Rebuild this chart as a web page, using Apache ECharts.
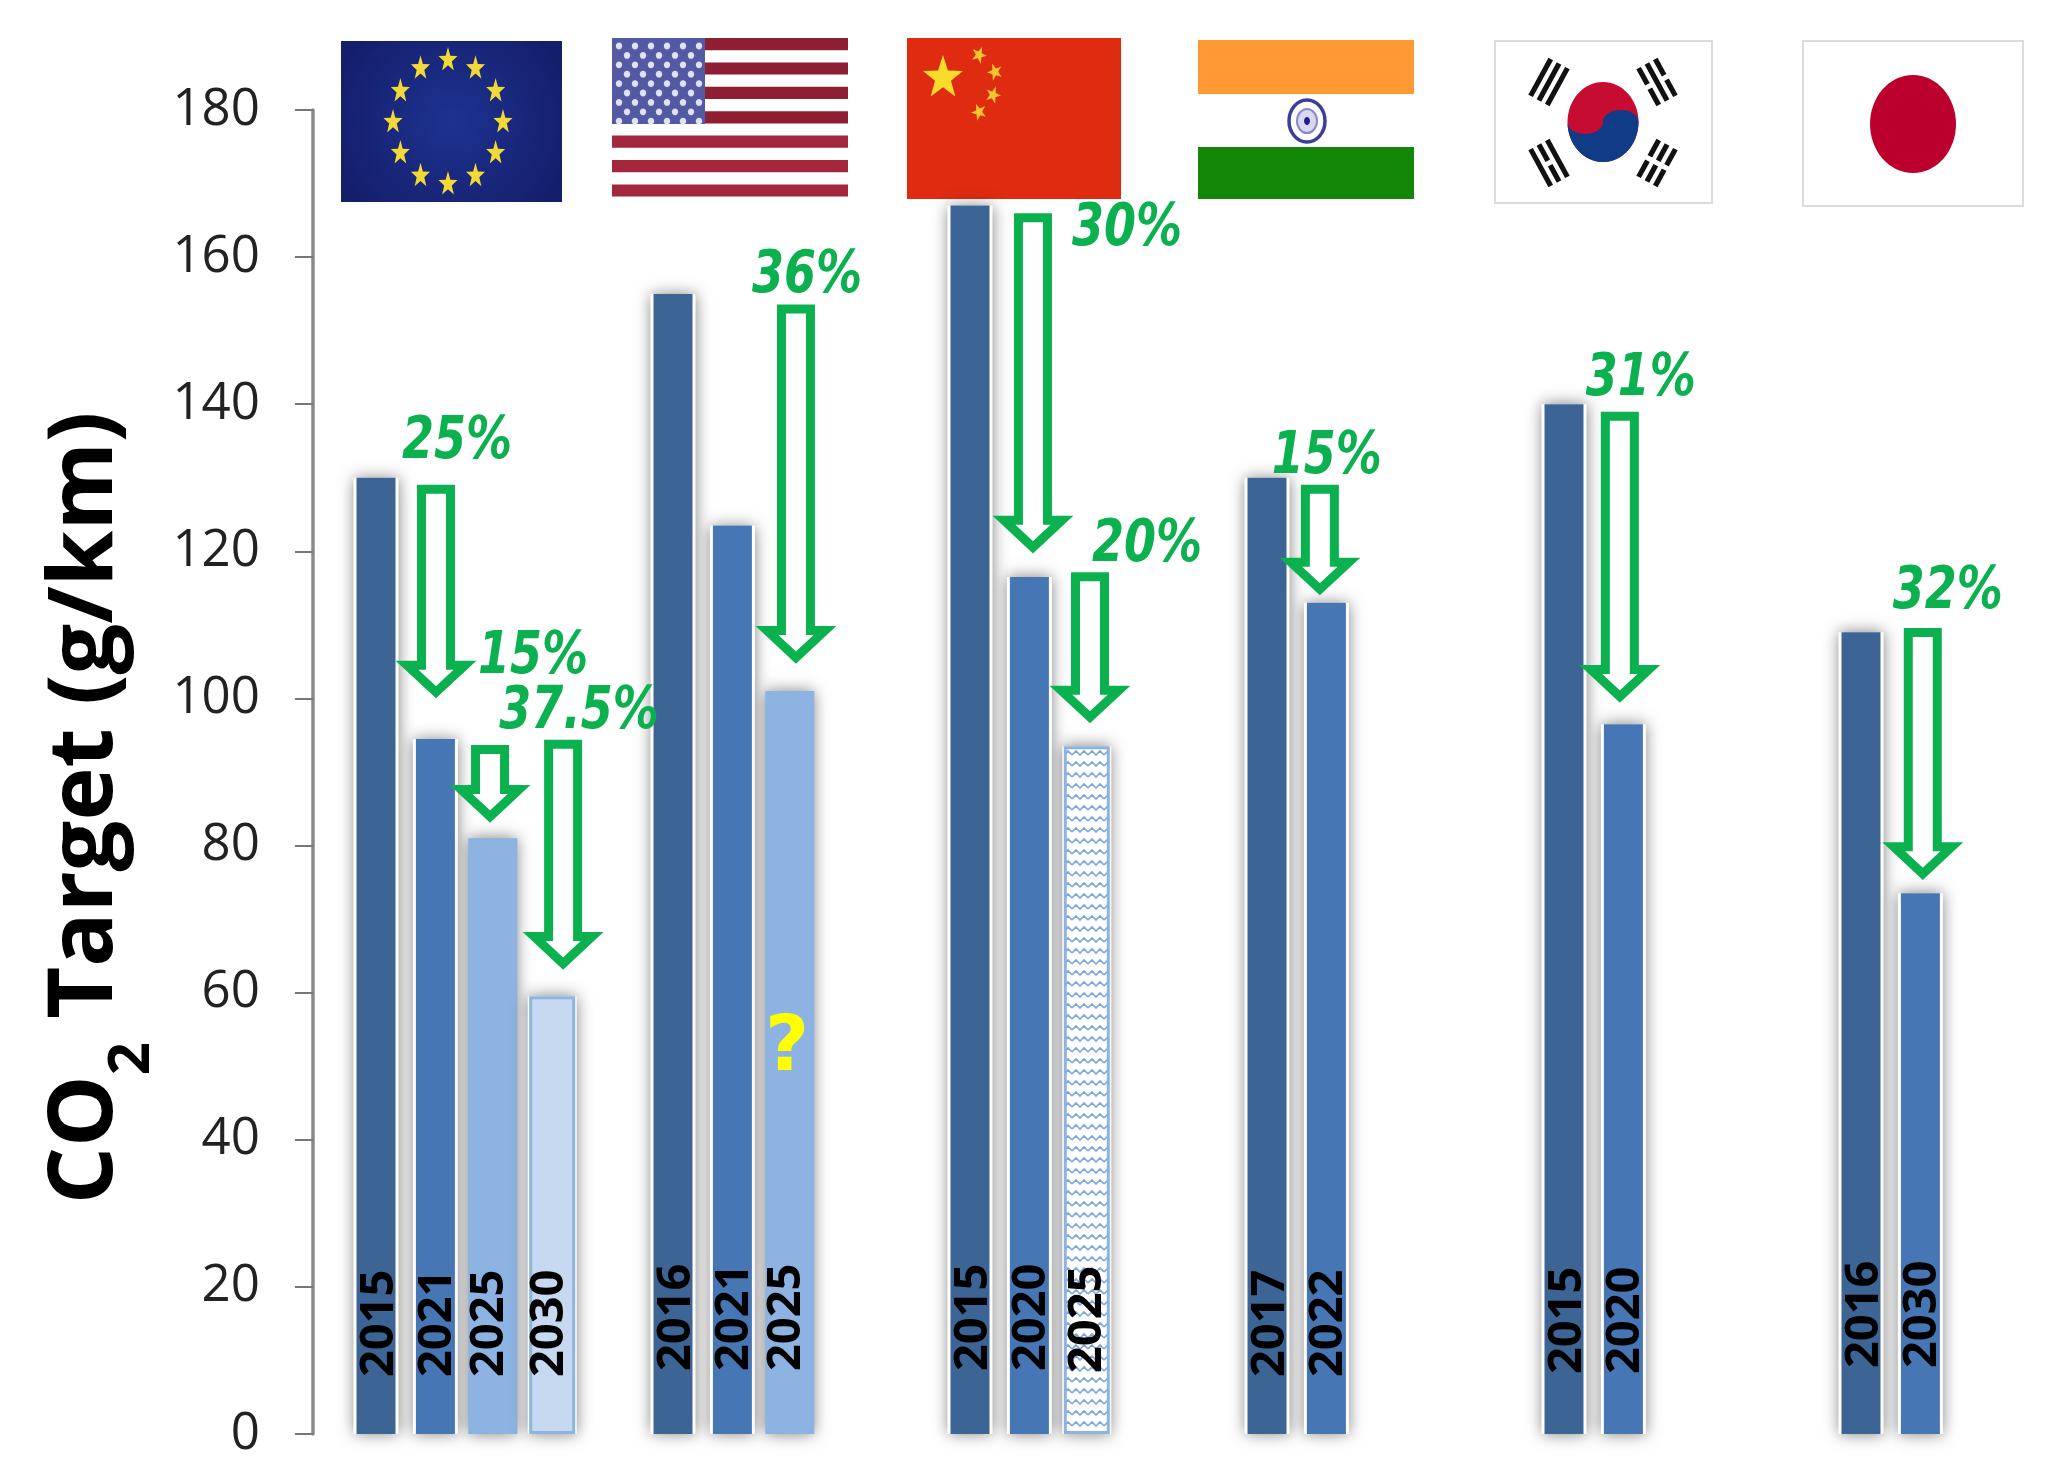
<!DOCTYPE html>
<html><head><meta charset="utf-8">
<style>html,body{margin:0;padding:0;background:#fff}#c{width:2064px;height:1476px}</style>
<script src="https://cdn.jsdelivr.net/npm/echarts@6/dist/echarts.min.js"></script>
</head><body><div id="c"></div>
<script>
// ---------- data ----------
const categories = ['','2015','2021','2025','2030','','2016','2021','2025','','','2015','2020','2025','','','2017','2022','','','','2015','2020','','','','2016','2030',''];
const barValues  = [null,130,94.5,81,59.5,null,155,123.5,101,null,null,167,116.5,93.5,null,null,130,113,null,null,null,140,96.5,null,null,null,109,73.5,null];
const barTones   = ['','dark','mid','light','pale','','dark','mid','light','','','dark','mid','hatch','','','dark','mid','','','','dark','mid','','','','dark','mid',''];
const yTicks = {min:0,max:180,interval:20};
const arrowSlot  = [2.51,3.42,4.65,8.57,12.56,13.52,17.39,22.44,27.54];
const arrowFrom  = [129,93.6,94.3,153.5,165.9,117.1,129,138.9,109.5];
const arrowTo    = [99.9,83,63,104.6,119.6,96.5,113.9,99.3,75.2];
const arrowText  = ['25%','15%','37.5%','36%','30%','20%','15%','31%','32%'];

// ---------- styling ----------
const GREEN='#0bb04f';
const pctOffset=[[21,-42],[43,-88],[16,-28],[11,-28],[94,16],[57,-27],[7,-27],[21,-33],[25,-36]];
const labelLift=[0,57,57,57,57,0,63,63,63,0,0,63,63,61,0,0,57,57,0,0,0,60,60,0,0,0,66,66,0];
const labelShift={dark:4,mid:2,light:-3,pale:-3,hatch:1};
const SHADOW={shadowColor:'rgba(0,0,0,0.5)',shadowBlur:15,shadowOffsetX:0,shadowOffsetY:0};
function hatch(){
  const c=document.createElement('canvas');c.width=16;c.height=11;
  const g=c.getContext('2d');g.fillStyle='#fff';g.fillRect(0,0,16,11);
  g.strokeStyle='#7ea7da';g.lineWidth=1.6;g.beginPath();
  g.moveTo(0,7);g.lineTo(4,3);g.lineTo(8,7);g.lineTo(12,3);g.lineTo(16,7);g.stroke();
  return c;
}
const toneColor={dark:'#3c6596',mid:'#4677b4',light:'#8db3e2',pale:'#c6d9f1',hatch:{image:hatch(),repeat:'repeat'}};
const yearLabel={show:true,position:'insideBottom',rotate:90,align:'left',verticalAlign:'middle',
  color:'#000',fontFamily:'"Open Sans"',fontWeight:700,fontSize:47,formatter:p=>p.name};
const pick=(tones,fn)=>barValues.map((v,i)=>tones.includes(barTones[i])?fn(v,i,barTones[i]):null);
const labelled=(v,i,t)=>({value:v,label:{distance:labelLift[i],offset:[0,labelShift[t]]}});
const emptySpacer=(axis,width)=>({type:'bar',name:'spacer',xAxisIndex:axis,barWidth:width,barGap:0,silent:true,data:barValues.map(()=>null)});

const barSeries=[
  // soft shadows and white halos behind the bars
  {type:'bar',name:'halo',xAxisIndex:2,barWidth:45,silent:true,z:1,itemStyle:Object.assign({color:'#fff'},SHADOW),
   data:pick(['dark','mid'],v=>v)},
  // light bars: wider and sitting a little left of the band centre
  {type:'bar',name:'light',xAxisIndex:3,barWidth:49,barGap:0,silent:true,z:1,itemStyle:SHADOW,label:yearLabel,
   data:pick(['light','pale','hatch'],(v,i,t)=>t==='light'
     ?Object.assign(labelled(v,i,t),{itemStyle:{color:toneColor.light}})
     :{value:v,itemStyle:{color:'#fff'},label:{show:false}})},
  emptySpacer(3,4),
  // dark and mid bars
  {type:'bar',name:'dark',barGap:'-100%',barWidth:39,silent:true,z:2,itemStyle:{color:toneColor.dark},label:yearLabel,
   data:pick(['dark'],labelled)},
  {type:'bar',name:'mid',barGap:'-100%',barWidth:39,silent:true,z:2,itemStyle:{color:toneColor.mid},label:yearLabel,
   data:pick(['mid'],labelled)},
  // outlined bars
  {type:'bar',name:'pale',xAxisIndex:4,barWidth:46,barGap:0,silent:true,z:2,label:yearLabel,
   itemStyle:{borderColor:'#8db3e2',borderWidth:3},
   data:pick(['pale','hatch'],(v,i,t)=>Object.assign(labelled(v,i,t),{itemStyle:{color:toneColor[t]}}))},
  emptySpacer(4,4)
];
const arrowData=arrowSlot.map((x,i)=>[x,arrowFrom[i],arrowTo[i],arrowText[i],pctOffset[i][0],pctOffset[i][1]]);
const arrowSeries={
  type:'custom',name:'reduction',xAxisIndex:1,yAxisIndex:0,clip:false,silent:true,z:5,
  encode:{x:0,y:[1,2]},data:arrowData,
  renderItem:(p,api)=>{
    const top=api.coord([api.value(0),api.value(1)]),tip=api.coord([api.value(0),api.value(2)]);
    const x=top[0],y0=top[1]+4,y1=tip[1]-7,sw=14.5,hw=29,hh=27;
    const pts=[[x-sw,y0],[x+sw,y0],[x+sw,y1-hh],[x+hw,y1-hh],[x,y1],[x-hw,y1-hh],[x-sw,y1-hh]];
    return {type:'group',children:[
      {type:'polygon',shape:{points:pts},style:{fill:'#fff',stroke:GREEN,lineWidth:9,lineJoin:'miter'}},
      {type:'text',x:x+api.value(4),y:top[1]+api.value(5),scaleY:1.28,
        style:{text:api.value(3),x:0,y:0,fill:GREEN,align:'center',verticalAlign:'middle',
        fontFamily:'"DejaVu Sans"',fontWeight:'bold',fontStyle:'italic',fontSize:46}}
    ]};
  }
};

// ---------- flags (decoration) ----------
function star(cx,cy,rx,ry,fill,rot){
  const pts=[];rot=rot||0;
  for(let i=0;i<10;i++){const a=-Math.PI/2+rot+i*Math.PI/5,k=i%2?0.4:1;pts.push([cx+rx*k*Math.cos(a),cy+ry*k*Math.sin(a)]);}
  return {type:'polygon',shape:{points:pts},style:{fill}};
}
const rect=(x,y,w,h,fill,extra)=>({type:'rect',shape:{x,y,width:w,height:h},style:Object.assign({fill},extra||{})});
const ell=(cx,cy,rx,ry,style)=>({type:'ellipse',shape:{cx,cy,rx,ry},style});
const flags=[];
// EU
flags.push(rect(341,41,221,161,{type:'radial',x:.5,y:.5,r:.75,colorStops:[{offset:0,color:'#1d3290'},{offset:1,color:'#141f6c'}]}));
for(let i=0;i<12;i++){const a=i*Math.PI/6;flags.push(star(448+55*Math.sin(a),122-62*Math.cos(a),10,13,'#f2d935'));}
// USA
flags.push(rect(612,38,236,159,'#fff'));
for(let i=0;i<7;i++)flags.push(rect(612,38+i*24.4,236,12.2,i<4?'#8e1f33':'#a3263c'));
flags.push(rect(612,38,93,86,'#5459a3'));
for(let r=0;r<9;r++)for(let c=0;c<(r%2?5:6);c++)
  flags.push(ell(619+(r%2?8:0)+c*16,46+r*9.4,3.2,3.4,{fill:'#dfe2f2'}));
// China
flags.push(rect(907,38,214,161,'#df2b10'));
flags.push(star(943,78,21,23,'#f7dc2c'));
[[979,55,.4],[995,72,.9],[993,95,-.9],[979,112,-.4]].forEach(s=>flags.push(star(s[0],s[1],8,9,'#f2c52e',s[2])));
// India
flags.push(rect(1198,40,216,54,'#ff9933'),rect(1198,94,216,53,'#fff'),rect(1198,147,216,52,'#138808'));
flags.push(ell(1307,121,18,21,{fill:'#fff',stroke:'#3c3c9a',lineWidth:3.5}),ell(1307,121,10,12,{fill:'#d8d8f0',stroke:'#8a8ac8',lineWidth:2}),ell(1307,121,3,4,{fill:'#1c1c90'}));
// Korea
flags.push(rect(1495,41,217,162,'#fff',{stroke:'#dcdcdc',lineWidth:2}));
flags.push(ell(1603,122,35.5,40,{fill:'#c60c30'}));
(function(){
  const pts=[],cx=1603,cy=122,rx=35.5,ry=40;
  for(let i=0;i<=40;i++){const a=Math.PI-i*Math.PI/40;pts.push([cx+rx*Math.cos(a),cy+ry*Math.sin(a)]);}
  for(let i=0;i<=20;i++){const a=i*Math.PI/20;pts.push([cx+rx*(.5+.5*Math.cos(a)),cy+ry*(-.3*Math.sin(a))]);}
  for(let i=0;i<=20;i++){const a=i*Math.PI/20;pts.push([cx+rx*(-.5+.5*Math.cos(a)),cy+ry*(.3*Math.sin(a))]);}
  flags.push({type:'polygon',shape:{points:pts},style:{fill:'#0f3b87'}});
})();
function trigram(cx,cy,rot,broken){
  const ch=[];
  [-1,0,1].forEach((k,i)=>{
    const X=k*9.5;
    if(broken[i]){ch.push(rect(X-2.6,-21,5.2,18.5,'#111'),rect(X-2.6,2.5,5.2,18.5,'#111'));}
    else ch.push(rect(X-2.6,-21,5.2,42,'#111'));
  });
  return {type:'group',x:cx,y:cy,rotation:rot,children:ch};
}
flags.push(trigram(1549,82,-0.5,[0,0,0]),trigram(1657,82,0.5,[1,0,1]),trigram(1549,163,0.5,[0,1,0]),trigram(1657,163,-0.5,[1,1,1]));
// Japan
flags.push(rect(1803,41,220,165,'#fff',{stroke:'#dcdcdc',lineWidth:2}),ell(1913,124,43,49,{fill:'#bc002d'}));
// yellow question mark on the US 2025 bar
flags.push({type:'text',style:{text:'?',x:787,y:1050,fill:'#ffff00',align:'center',verticalAlign:'middle',fontFamily:'"DejaVu Sans"',fontWeight:'bold',fontSize:76},z:10});

const hiddenCat=()=>({type:'category',data:categories,show:false});
const chart=echarts.init(document.getElementById('c'),null,{renderer:'canvas'});
chart.setOption({
  animation:false,backgroundColor:'#fff',
  grid:{left:286.9,top:110,width:29*59.4,height:1324},
  xAxis:[hiddenCat(),{type:'value',min:0,max:29,show:false},hiddenCat(),hiddenCat(),hiddenCat()],
  yAxis:{type:'value',min:yTicks.min,max:yTicks.max,interval:yTicks.interval,offset:-26,
    axisLine:{show:true,lineStyle:{color:'#8a8a8a',width:3.5}},
    axisTick:{show:true,length:18,lineStyle:{color:'#777',width:2}},
    splitLine:{show:false},
    axisLabel:{margin:53,color:'#222',fontFamily:'"Open Sans"',fontSize:51},
    name:'{b|CO}{s|2}{b| Target (g/km)}',nameLocation:'middle',nameGap:151,nameRotate:90,
    nameTextStyle:{padding:[0,72,0,0],color:'#000',
      rich:{b:{fontFamily:'"Open Sans"',fontWeight:700,fontSize:90,color:'#000'},
            s:{fontFamily:'"Open Sans"',fontWeight:700,fontSize:58,color:'#000',verticalAlign:'bottom',lineHeight:150}}}
  },
  graphic:{elements:flags},
  series:[...barSeries,arrowSeries]
});
</script></body></html>
